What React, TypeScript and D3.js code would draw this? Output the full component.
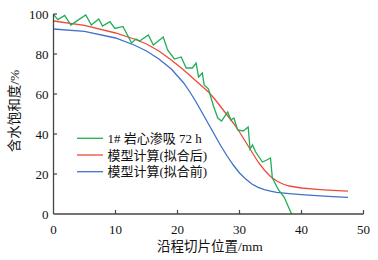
import React from "react";
import * as d3 from "d3";

const xTicks = [0, 10, 20, 30, 40, 50];
const yTicks = [0, 20, 40, 60, 80, 100];

const greenX = [0, 0.7, 1.8, 2.8, 3.6, 5.2, 6.1, 7.3, 7.9, 9.1, 9.9, 11.2, 12.6, 13.3, 13.9, 15.3, 16.1, 16.9, 17.7, 18.4, 19.5, 20.6, 21.4, 22.4, 23.0, 23.4, 24.0, 24.3, 25.0, 25.8, 26.5, 27.1, 28.1, 28.6, 29.1, 29.7, 30.6, 31.4, 31.7, 32.1, 32.6, 33.7, 34.4, 35.0, 35.3, 36.3, 37.2, 37.9, 38.4];
const greenY = [99.8, 97.2, 99.3, 94.5, 96.2, 99.5, 94.5, 97.5, 94, 96.2, 92.8, 93.8, 85.5, 87.5, 86.5, 89.5, 84.5, 86.5, 88.5, 82, 77.5, 78.5, 73, 73, 75.5, 68.5, 70.5, 64.5, 62.5, 54, 48, 46.5, 51, 47, 48, 42, 41.5, 43.5, 32.5, 34.5, 31, 26, 27, 28, 18, 12, 8.5, 3.5, 0];

const redX = [0, 5, 10, 13, 15, 17, 19, 21, 23, 25, 26, 27, 28, 29, 30, 31, 32, 33, 34, 35, 36, 37, 38, 40, 43, 45, 47.5];
const redY = [96.5, 94.3, 90.5, 87.5, 85, 81.5, 77, 72, 66.5, 61, 57.5, 53.5, 49.5, 45.5, 41, 36, 31, 26, 22, 18.8, 16.5, 15, 14, 13, 12.2, 11.8, 11.4];

const blueX = [0, 5, 10, 13, 15, 17, 19, 20, 21, 22, 23, 24, 25, 26, 27, 28, 29, 30, 31, 32, 33, 34, 35, 36, 38, 40, 43, 45, 47.5];
const blueY = [92.5, 91.3, 88, 84.5, 81.5, 77.5, 72.5, 69, 65.5, 61, 56, 50.5, 45, 39.5, 34, 29, 24.5, 20.5, 17.5, 15, 13.3, 12.2, 11.4, 10.8, 10.2, 9.7, 9.1, 8.7, 8.3];

const legendLabels = ["1# 岩心渗吸 72 h", "模型计算(拟合后)", "模型计算(拟合前)"];
const colors = ["#1fae55", "#f04a3a", "#3f72c8"];

const xTitle = "沿程切片位置/mm";
const yTitle = "含水饱和度/%";

export default function App() {
  const W = 378, H = 260;
  const x = d3.scaleLinear().domain([0, 50]).range([53.5, 363.5]);
  const y = d3.scaleLinear().domain([0, 100]).range([214, 14]);
  const line = d3.line<[number, number]>().x(d => x(d[0])).y(d => y(d[1]));
  const series = [
    greenX.map((v, i) => [v, greenY[i]] as [number, number]),
    redX.map((v, i) => [v, redY[i]] as [number, number]),
    blueX.map((v, i) => [v, blueY[i]] as [number, number]),
  ];
  const font = "'Liberation Serif', 'Times New Roman', 'Noto Sans CJK SC', serif";
  const axisColor = "#444";
  return (
    <svg width={W} height={H} style={{ position: "absolute", left: 0, top: 0, background: "#fff" }} fontFamily={font}>
      {/* lines */}
      {[2, 1, 0].map(i => (
        <path key={i} d={line(series[i]) || ""} fill="none" stroke={colors[i]} strokeWidth={1.3} />
      ))}
      {/* axes */}
      <line x1={x(0)} x2={x(0)} y1={y(100)} y2={y(0)} stroke={axisColor} strokeWidth={1.3} />
      <line x1={x(0)} x2={x(50)} y1={y(0)} y2={y(0)} stroke={axisColor} strokeWidth={1.3} />
      {xTicks.map(t => (
        <g key={"x" + t}>
          {t > 0 && <line x1={x(t)} x2={x(t)} y1={y(0)} y2={y(0) - 4} stroke={axisColor} strokeWidth={1.2} />}
          <text x={x(t)} y={y(0) + 20} textAnchor="middle" fontSize={13} fill="#111">{t}</text>
        </g>
      ))}
      {yTicks.map(t => (
        <g key={"y" + t}>
          {t > 0 && <line x1={x(0)} x2={x(0) + 3.5} y1={y(t)} y2={y(t)} stroke={axisColor} strokeWidth={1.2} />}
          <text x={x(0) - 5} y={y(t) + 4.5} textAnchor="end" fontSize={13} fill="#111">{t}</text>
        </g>
      ))}
      {/* legend */}
      {legendLabels.map((l, i) => (
        <g key={"l" + i} transform={`translate(0, ${138.3 + i * 16.7})`}>
          <line x1={77} x2={103} y1={0} y2={0} stroke={colors[i]} strokeWidth={1.3} />
          <text x={107.5} y={4.5} fontSize={13} fill="#111">{l}</text>
        </g>
      ))}
      {/* titles */}
      <text x={210} y={251} textAnchor="middle" fontSize={13.5} fill="#111">{xTitle}</text>
      <text transform={`translate(19, 111) rotate(-90)`} textAnchor="middle" fontSize={13.5} fill="#111">{yTitle}</text>
    </svg>
  );
}
